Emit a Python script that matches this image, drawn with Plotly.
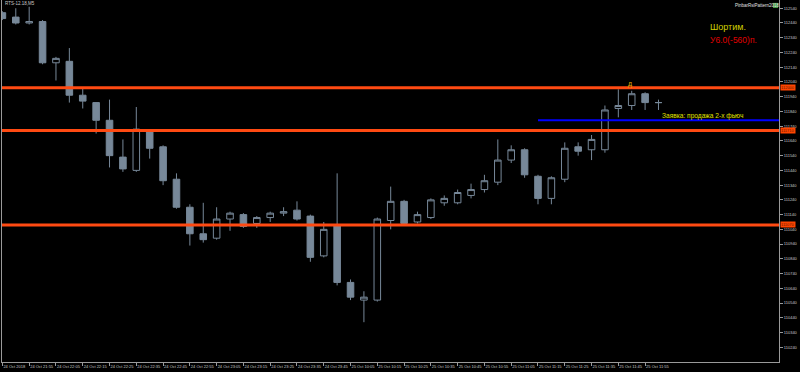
import plotly.graph_objects as go

# ---- data ----
times = ["21:45", "21:50", "21:55", "22:00", "22:05", "22:10", "22:15", "22:20", "22:25", "22:30",
         "22:35", "22:40", "22:45", "22:50", "22:55", "23:00", "23:05", "23:10", "23:15", "23:20",
         "23:25", "23:30", "23:35", "23:40", "23:45",
         "10:00", "10:05", "10:10", "10:15", "10:20", "10:25", "10:30", "10:35", "10:40", "10:45",
         "10:50", "10:55", "11:00", "11:05", "11:10", "11:15", "11:20", "11:25", "11:30", "11:35",
         "11:40", "11:45", "11:50", "11:55", "12:00"]
days = ["24 Oct"] * 25 + ["25 Oct"] * 25

opens = [112510, 112480, 112440, 112450, 112170, 112180, 111950, 111900, 111780, 111530,
         111440, 111710, 111600, 111380, 111190, 111010, 110980, 111110, 111140, 111080,
         111120, 111150, 111170, 111130, 110860,
         111070, 110680, 110560, 110560, 111100, 111230, 111090, 111120, 111220, 111220,
         111270, 111310, 111360, 111510, 111580, 111400, 111250, 111380, 111600, 111580,
         111580, 111860, 111880, 111960, 111900]
highs = [112520, 112540, 112550, 112460, 112210, 112270, 112000, 111900, 111920, 111650,
         111870, 111720, 111610, 111420, 111210, 111220, 111190, 111160, 111150, 111130,
         111160, 111190, 111230, 111140, 111090,
         111420, 110700, 110620, 111120, 111330, 111240, 111160, 111250, 111270, 111310,
         111350, 111410, 111650, 111610, 111590, 111410, 111400, 111630, 111630, 111680,
         111880, 111990, 111980, 111970, 111920]
lows = [112460, 112430, 112430, 112160, 112050, 111900, 111860, 111690, 111460, 111430,
        111430, 111520, 111340, 111180, 110930, 110950, 110970, 111030, 111050, 111050,
        111090, 111130, 111100, 110820, 110850,
        110660, 110560, 110410, 110550, 111040, 111070, 111080, 111110, 111200, 111210,
        111250, 111290, 111340, 111490, 111390, 111210, 111210, 111360, 111540, 111510,
        111560, 111800, 111850, 111850, 111850]
closes = [112470, 112440, 112450, 112170, 112200, 111950, 111910, 111780, 111540, 111450,
          111720, 111590, 111370, 111190, 111010, 110970, 111110, 111150, 111060, 111120,
          111150, 111160, 111110, 110850, 111040,
          110680, 110580, 110580, 111110, 111230, 111080, 111140, 111240, 111250, 111290,
          111310, 111370, 111510, 111580, 111410, 111250, 111390, 111590, 111570, 111650,
          111850, 111880, 111960, 111900, 111900]

levels = [112000, 111710, 111070]
order_level = 111780
y_ticks = list(range(110240, 112541, 100))

tick_idx = list(range(0, 50, 2))
tick_text = ["24 Oct 2018"] + [f"{days[i]} {times[i]}" for i in tick_idx[1:]]

x = list(range(len(times)))

# ---- figure ----
GRAY = "#778899"
fig = go.Figure()
fig.add_trace(go.Candlestick(
    x=x, open=opens, high=highs, low=lows, close=closes,
    increasing=dict(fillcolor="#000000", line=dict(color=GRAY, width=1)),
    decreasing=dict(fillcolor=GRAY, line=dict(color=GRAY, width=1)),
    whiskerwidth=0, showlegend=False, hoverinfo="skip",
))

shapes = []
for lv in levels:
    shapes.append(dict(type="line", xref="paper", x0=0, x1=1, yref="y", y0=lv, y1=lv,
                       line=dict(color="#ff4a12", width=3), layer="above"))
shapes.append(dict(type="line", xref="x", x0=40.0, x1=58.0, yref="y", y0=order_level, y1=order_level,
                   line=dict(color="#0000ff", width=2), layer="above"))
# small green icon top right
shapes.append(dict(type="rect", xref="paper", yref="paper", x0=0.9923, x1=0.9987, y0=0.978, y1=0.992,
                   fillcolor="#4aa04a", line=dict(width=0)))

F = "Liberation Sans, Arial, sans-serif"
ann = []
for lv in levels:
    ann.append(dict(xref="paper", x=1, xanchor="left", xshift=1, yref="y", y=lv, yanchor="middle",
                    text=str(lv), showarrow=False, bgcolor="#ff4500", borderpad=0,
                    font=dict(size=4, color="#6a1a00", family=F)))
ann += [
    dict(xref="paper", yref="paper", x=0.908, y=0.9254, xanchor="left", yanchor="middle",
         text="Шортим.", showarrow=False, font=dict(size=9, color="#d2d200", family=F)),
    dict(xref="paper", yref="paper", x=0.908, y=0.8895, xanchor="left", yanchor="middle",
         text="У6.0(-560)п.", showarrow=False, font=dict(size=8.5, color="#e00000", family=F)),
    dict(xref="paper", yref="paper", x=0.847, y=0.6796, xanchor="left", yanchor="middle",
         text="Заявка: продажа 2-х фьюч", showarrow=False, font=dict(size=6.6, color="#e0e000", family=F)),
    dict(xref="paper", yref="paper", x=0.8082, y=0.768, xanchor="center", yanchor="middle",
         text="д", showarrow=False, font=dict(size=7, color="#e0b000", family=F)),
    dict(xref="paper", yref="paper", x=0.0013, y=0.989, xanchor="left", yanchor="middle",
         text="RTS-12.18,M5", showarrow=False, font=dict(size=4.5, color="#c8c8c8", family=F)),
    dict(xref="paper", yref="paper", x=0.9408, y=0.9848, xanchor="left", yanchor="middle",
         text="PinbarRsiPattern2018", showarrow=False, font=dict(size=4.5, color="#e0e0e0", family=F)),
]

fig.update_layout(
    width=800, height=372,
    margin=dict(l=2, r=21, t=0, b=10),
    paper_bgcolor="#000000", plot_bgcolor="#000000",
    shapes=shapes, annotations=ann,
    font=dict(family=F, color="#c0c0c0"),
    xaxis=dict(range=[-0.03, 58.0], rangeslider=dict(visible=False), showgrid=False, zeroline=False,
               tickvals=tick_idx, ticktext=tick_text, ticks="outside", ticklen=3, tickcolor="#9a9a9a",
               tickangle=0, automargin=False,
               ticklabelposition="outside right", tickfont=dict(size=4, color="#c8c8c8", family=F),
               showline=True, linecolor="#9a9a9a", linewidth=1, fixedrange=True),
    yaxis=dict(range=[110140, 112596], side="right", showgrid=False, zeroline=False, automargin=False,
               tickvals=y_ticks, ticktext=[str(v) for v in y_ticks], ticks="outside", ticklen=3,
               tickcolor="#9a9a9a", tickfont=dict(size=4, color="#c8c8c8", family=F),
               showline=True, mirror=True, linecolor="#9a9a9a", linewidth=1, fixedrange=True),
)

fig.write_html("out.html")
